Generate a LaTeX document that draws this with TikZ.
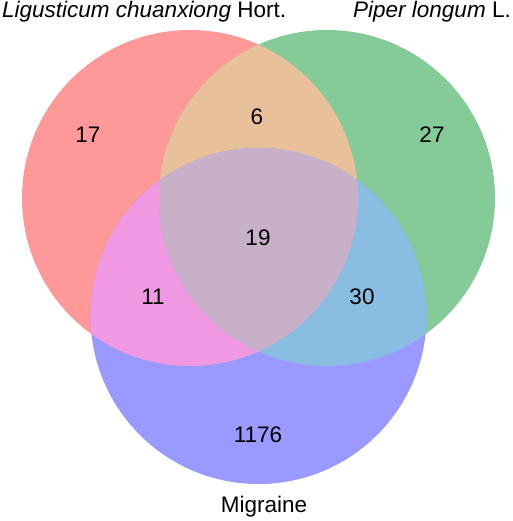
\documentclass[tikz,border=0pt]{standalone}
\usepackage{fontspec}
\setmainfont{Liberation Sans}
\usepackage{xcolor}
\definecolor{vnred}{HTML}{FF9999}
\definecolor{vngreen}{HTML}{84CB98}
\definecolor{vnblue}{HTML}{9999FF}
\definecolor{vnredgreen}{HTML}{E8C19B}
\definecolor{vnredblue}{HTML}{F198E3}
\definecolor{vngreenblue}{HTML}{8ABDE2}
\definecolor{vnall}{HTML}{C8B0C8}

\begin{document}
\begin{tikzpicture}[
        x=1pt, y=-1pt,
        font=\fontsize{22.5}{27}\selectfont,
        num/.style={inner sep=0pt, anchor=center},
        setname/.style={inner sep=0pt},
      ]
        \useasboundingbox (0,0) rectangle (512,521);
        \coordinate (lc) at (190,198);
        \coordinate (pl) at (327,198);
        \coordinate (mg) at (258.5,316);
        \fill[vnred]   (lc) circle (168pt);
        \fill[vngreen] (pl) circle (168pt);
        \fill[vnblue]  (mg) circle (168pt);
        \begin{scope}
          \clip (lc) circle (168pt);
          \fill[vnredgreen] (pl) circle (168pt);
          \fill[vnredblue]  (mg) circle (168pt);
        \end{scope}
        \begin{scope}
          \clip (pl) circle (168pt);
          \fill[vngreenblue] (mg) circle (168pt);
          \clip (lc) circle (168pt);
          \fill[vnall] (mg) circle (168pt);
        \end{scope}
        \node[setname, anchor=base west] (lcname) at (2,18) {\itshape Ligusticum chuanxiong\upshape{} Hort.};
        \node[setname, anchor=base east] (plname) at (511,18) {\itshape Piper longum\upshape{} L.};
        \node[setname] (mgname) at (264,507) {Migraine};
        \node[num] (lconly) at (88,135) {17};
        \node[num] (lcpl)   at (257,117) {6};
        \node[num] (plonly) at (432,135) {27};
        \node[num] (center) at (258,238) {19};
        \node[num] (lcmg)   at (153,297) {11};
        \node[num] (plmg)   at (362,297) {30};
        \node[num] (mgonly) at (258,435) {1176};
      \end{tikzpicture}
\end{document}
